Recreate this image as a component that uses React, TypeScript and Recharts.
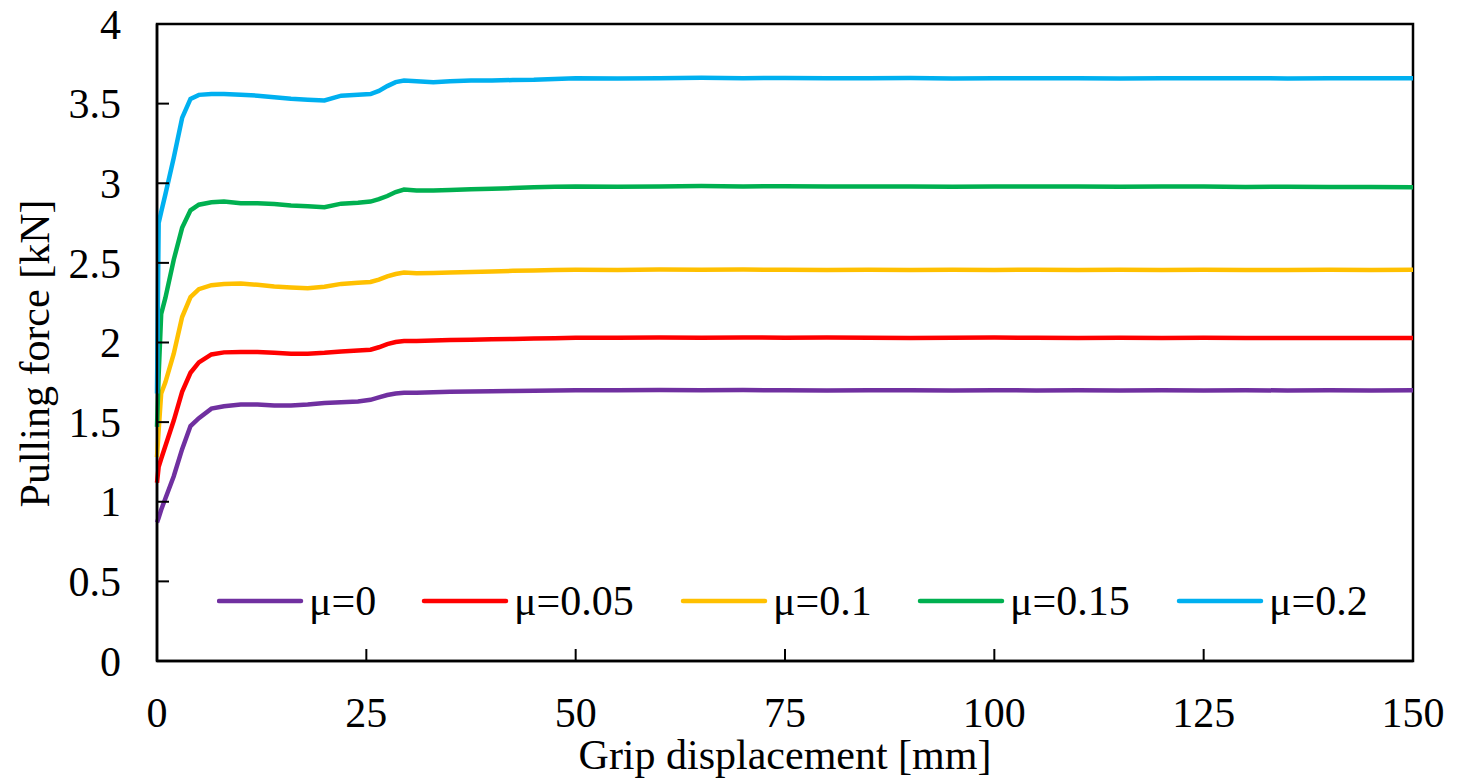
import { LineChart, Line, XAxis, YAxis, Legend, ReferenceArea } from 'recharts'

const FONT = '"Liberation Serif", "Times New Roman", serif'

// grip displacement [mm]
const displacement = [
  0, 0.2, 0.5, 1, 2, 3, 4, 5, 6.5, 8,
  10, 12, 14, 16, 18, 20, 22, 24, 25.5, 26.5,
  27.5, 28.5, 29.5, 31, 33, 35, 37.5, 40, 42.5, 45,
  47.5, 50, 55, 60, 65, 70, 75, 80, 85, 90,
  95, 100, 105, 110, 115, 120, 125, 130, 135, 140,
  145, 150,
]

// pulling force [kN] per friction coefficient
const force0 = [
  0.87, 0.9, 0.95, 1.02, 1.16, 1.33, 1.475, 1.525, 1.585, 1.6,
  1.61, 1.61, 1.605, 1.605, 1.61, 1.62, 1.625, 1.63, 1.64, 1.655,
  1.67, 1.68, 1.685, 1.685, 1.688, 1.69, 1.692, 1.694, 1.696, 1.697,
  1.698, 1.7, 1.7, 1.701, 1.7, 1.701, 1.7, 1.699, 1.7, 1.7,
  1.699, 1.7, 1.699, 1.7, 1.699, 1.7, 1.699, 1.7, 1.699, 1.7,
  1.699, 1.7,
]
const force005 = [
  1.12, 1.22, 1.27, 1.35, 1.51, 1.69, 1.81, 1.875, 1.925, 1.938,
  1.94, 1.94, 1.935, 1.93, 1.93, 1.935, 1.943, 1.95, 1.955, 1.97,
  1.99, 2.003, 2.01, 2.01, 2.012, 2.015, 2.018, 2.02, 2.022, 2.025,
  2.027, 2.03, 2.03, 2.031, 2.03, 2.032, 2.03, 2.031, 2.03, 2.029,
  2.03, 2.031, 2.03, 2.029, 2.03, 2.029, 2.03, 2.028, 2.029, 2.028,
  2.029, 2.028,
]
const force01 = [
  1.28, 1.45, 1.68, 1.75, 1.93, 2.16, 2.285, 2.335, 2.36, 2.368,
  2.37, 2.362, 2.352, 2.345, 2.34, 2.35, 2.368, 2.375, 2.38, 2.395,
  2.415, 2.43, 2.44, 2.435, 2.437, 2.44, 2.443, 2.446, 2.45, 2.452,
  2.455, 2.457, 2.456, 2.458, 2.457, 2.458, 2.457, 2.456, 2.457, 2.456,
  2.457, 2.456, 2.457, 2.455, 2.457, 2.456, 2.457, 2.456, 2.455, 2.457,
  2.456, 2.457,
]
const force015 = [
  1.47, 1.8, 2.18, 2.28, 2.52, 2.72, 2.83, 2.865, 2.88, 2.885,
  2.875, 2.875, 2.87, 2.86, 2.855, 2.85, 2.872, 2.878, 2.885, 2.9,
  2.92, 2.945, 2.96, 2.955, 2.955, 2.958, 2.962, 2.965, 2.97, 2.975,
  2.978, 2.98, 2.978, 2.98, 2.982, 2.98, 2.981, 2.98, 2.979, 2.98,
  2.978, 2.98, 2.979, 2.98, 2.978, 2.979, 2.98, 2.977, 2.978, 2.977,
  2.976, 2.975,
]
const force02 = [
  1.68, 2.75, 2.82, 2.93, 3.16, 3.41, 3.53, 3.555, 3.56, 3.56,
  3.555, 3.55, 3.54, 3.53, 3.525, 3.52, 3.55, 3.555, 3.56, 3.58,
  3.61, 3.635, 3.645, 3.64, 3.635, 3.64, 3.645, 3.645, 3.648, 3.65,
  3.655, 3.66, 3.658, 3.66, 3.662, 3.66, 3.661, 3.66, 3.659, 3.661,
  3.658, 3.66, 3.659, 3.66, 3.658, 3.66, 3.659, 3.66, 3.658, 3.66,
  3.659, 3.66,
]

const xTicks = [0, 25, 50, 75, 100, 125, 150]
const yTicks = [0, 0.5, 1, 1.5, 2, 2.5, 3, 3.5, 4]

const series = [
  { key: 'mu0', name: 'μ=0', color: '#7030A0', values: force0 },
  { key: 'mu005', name: 'μ=0.05', color: '#FF0000', values: force005 },
  { key: 'mu01', name: 'μ=0.1', color: '#FFC000', values: force01 },
  { key: 'mu015', name: 'μ=0.15', color: '#00B050', values: force015 },
  { key: 'mu02', name: 'μ=0.2', color: '#00B0F0', values: force02 },
]

// left edge of each legend entry, relative to the legend box
const legendOffsets = [0, 205, 464, 701, 960]

const data = displacement.map((x, i) => {
  const row: Record<string, number> = { x }
  series.forEach((s) => { row[s.key] = s.values[i] })
  return row
})

// ticks point into the plot area
const YTick = ({ x, y, payload }: any) => (
  <g>
    <line x1={x} y1={y} x2={x + 12} y2={y} stroke="#000" strokeWidth={2} />
    <text x={x - 36} y={y} dy="0.35em" textAnchor="end" fontSize={42} fontFamily={FONT} fill="#000">
      {payload.value}
    </text>
  </g>
)

const XTick = ({ x, y, payload }: any) => (
  <g>
    <line x1={x} y1={y} x2={x} y2={y - 12} stroke="#000" strokeWidth={2} />
    <text x={x} y={y + 66} textAnchor="middle" fontSize={42} fontFamily={FONT} fill="#000">
      {payload.value}
    </text>
  </g>
)

const LegendRow = () => (
  <svg width={1200} height={50} style={{ display: 'block' }}>
    {series.map((s, i) => (
      <g key={s.key} transform={`translate(${legendOffsets[i]},0)`}>
        <line x1={2} y1={24} x2={84} y2={24} stroke={s.color} strokeWidth={4.5} strokeLinecap="round" />
        <text x={92} y={38} fontSize={42} fontFamily={FONT} fill="#000">
          {s.name}
        </text>
      </g>
    ))}
  </svg>
)

export default function App() {
  return (
    <div style={{ position: 'absolute', left: 0, top: 0, background: '#fff' }}>
      <LineChart width={1459} height={778} data={data} margin={{ top: 24, right: 46, bottom: 0, left: 0 }}>
        <XAxis
          dataKey="x"
          type="number"
          domain={[0, 150]}
          ticks={xTicks}
          height={117}
          tickSize={0}
          tickMargin={0}
          tickLine={false}
          tick={<XTick />}
          axisLine={{ stroke: '#000', strokeWidth: 2.5 }}
          label={{ value: 'Grip displacement [mm]', position: 'insideBottom', offset: 9, fontSize: 42, fontFamily: FONT, fill: '#000' }}
        />
        <YAxis
          type="number"
          domain={[0, 4]}
          ticks={yTicks}
          width={157}
          tickSize={0}
          tickMargin={0}
          tickLine={false}
          tick={<YTick />}
          axisLine={{ stroke: '#000', strokeWidth: 2.5 }}
          label={{ value: 'Pulling force [kN]', angle: -90, position: 'center', dx: -44, dy: 11, fontSize: 42, fontFamily: FONT, fill: '#000' }}
        />
        <ReferenceArea x1={0} x2={150} y1={0} y2={4} fill="none" stroke="#000" strokeWidth={2.5} />
        <Legend
          layout="horizontal"
          verticalAlign="middle"
          align="center"
          content={<LegendRow />}
          wrapperStyle={{ position: 'absolute', left: 217, top: 577, width: 1200 }}
        />
        {series.map((s) => (
          <Line
            key={s.key}
            dataKey={s.key}
            name={s.name}
            type="linear"
            stroke={s.color}
            strokeWidth={4.5}
            dot={false}
            activeDot={false}
            isAnimationActive={false}
          />
        ))}
      </LineChart>
    </div>
  )
}
